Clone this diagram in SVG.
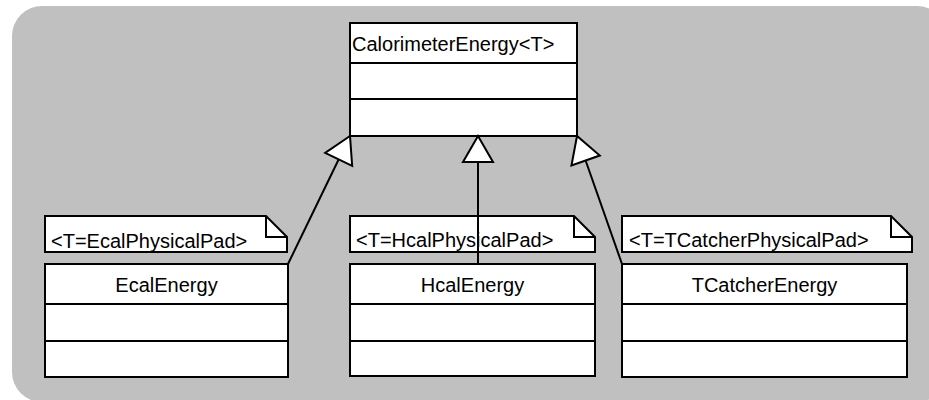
<svg xmlns="http://www.w3.org/2000/svg" width="929" height="400" viewBox="0 0 929 400">
<style>
  .box { fill: #ffffff; stroke: #000000; stroke-width: 2; }
  .div { stroke: #000000; stroke-width: 2; fill: none; }
  .lbl { font-family: "Liberation Sans", Arial, sans-serif; font-size: 20px; fill: #000000; }
  .mid { text-anchor: middle; }
  .conn { stroke: #000000; stroke-width: 2; fill: none; marker-end: url(#gen); }
</style>
<defs>
  <marker id="gen" markerUnits="userSpaceOnUse" markerWidth="40" markerHeight="40" refX="0" refY="0" orient="auto" overflow="visible">
    <path d="M0,0 L-26,-15 L-26,15 Z" fill="#ffffff" stroke="#000000" stroke-width="2" stroke-linejoin="miter"/>
  </marker>
</defs>
<rect x="12" y="6" width="935" height="396" rx="30" ry="30" fill="#c0c0c0"/>

<g id="CalorimeterEnergy">
  <rect class="box" x="350" y="23" width="227" height="113"/>
  <line class="div" x1="350" y1="63" x2="577" y2="63"/>
  <line class="div" x1="350" y1="99" x2="577" y2="99"/>
  <text class="lbl" x="352" y="51">CalorimeterEnergy&lt;T&gt;</text>
</g>

<g id="note-ecal">
  <path class="box" d="M45,216 H266 L287,237 V252 H45 Z"/>
  <path class="div" d="M266,216 V237 H287"/>
  <text class="lbl" x="51" y="248">&lt;T=EcalPhysicalPad&gt;</text>
</g>
<g id="note-hcal">
  <path class="box" d="M350,216 H574 L595,237 V252 H350 Z"/>
  <path class="div" d="M574,216 V237 H595"/>
  <text class="lbl" x="356" y="247">&lt;T=HcalPhysicalPad&gt;</text>
</g>
<g id="note-tcatcher">
  <path class="box" d="M622,216 H891 L912,237 V252 H622 Z"/>
  <path class="div" d="M891,216 V237 H912"/>
  <text class="lbl" x="629" y="247">&lt;T=TCatcherPhysicalPad&gt;</text>
</g>

<g id="EcalEnergy">
  <rect class="box" x="45" y="264" width="243" height="113"/>
  <line class="div" x1="45" y1="304" x2="288" y2="304"/>
  <line class="div" x1="45" y1="341" x2="288" y2="341"/>
  <text class="lbl mid" x="166.5" y="292">EcalEnergy</text>
</g>
<g id="HcalEnergy">
  <rect class="box" x="350" y="264" width="245" height="112"/>
  <line class="div" x1="350" y1="304" x2="595" y2="304"/>
  <line class="div" x1="350" y1="341" x2="595" y2="341"/>
  <text class="lbl mid" x="472.5" y="292">HcalEnergy</text>
</g>
<g id="TCatcherEnergy">
  <rect class="box" x="622" y="264" width="285" height="113"/>
  <line class="div" x1="622" y1="304" x2="907" y2="304"/>
  <line class="div" x1="622" y1="341" x2="907" y2="341"/>
  <text class="lbl mid" x="764.5" y="292">TCatcherEnergy</text>
</g>

<g id="connectors">
  <path class="conn" d="M288,264 L350,136"/>
  <path class="conn" d="M478,264 L478,136"/>
  <path class="conn" d="M622,264 L577,136"/>
</g>
</svg>
